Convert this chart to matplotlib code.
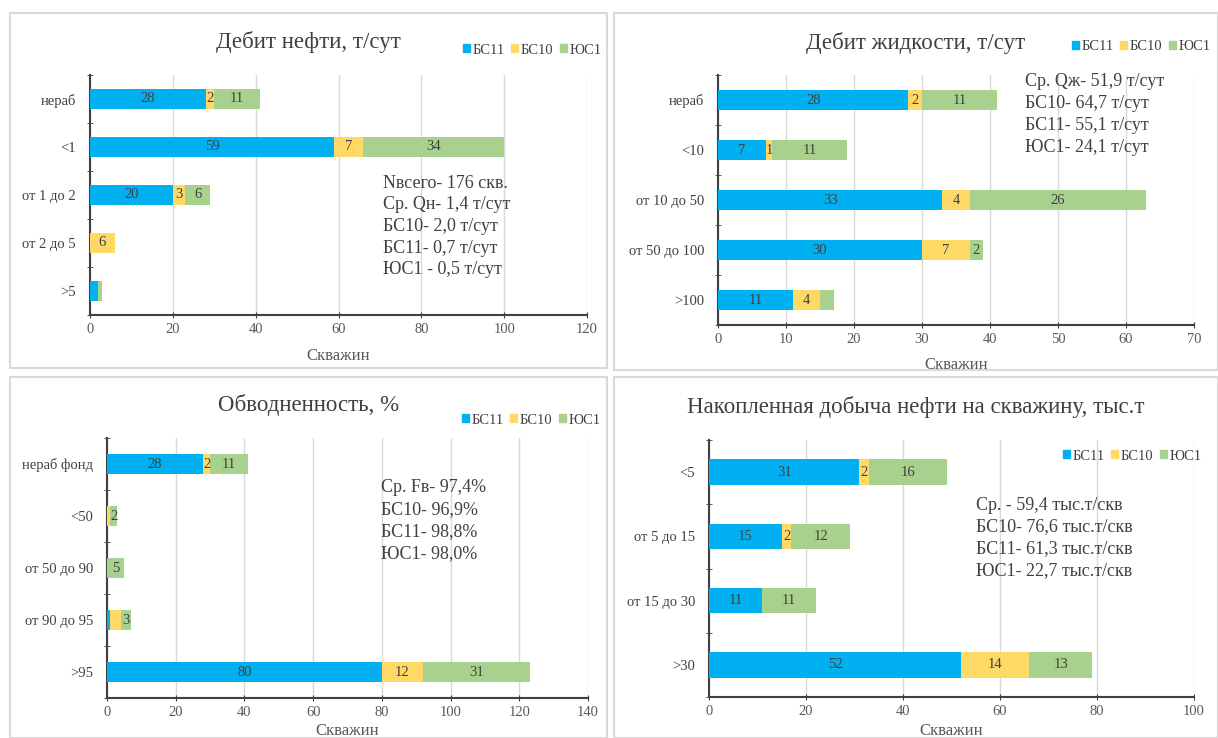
import matplotlib
matplotlib.use("Agg")
import matplotlib.pyplot as plt
from matplotlib.patches import Patch, Rectangle

W, H = 1218, 738
SERIES = ["БС11", "БС10", "ЮС1"]
COLORS = ["#00B0F0", "#FFD966", "#A9D18E"]
TXT = "#404040"

# --- panel 1: oil rate ---
oil_cats = ["нераб", "<1", "от 1 до 2", "от 2 до 5", ">5"]
oil_bs11 = [28, 59, 20, 0, 2]
oil_bs10 = [2, 7, 3, 6, 0]
oil_yus1 = [11, 34, 6, 0, 1]
oil_hidden = {(0, 4), (2, 4)}
oil_note = ["Nвсего- 176 скв.", "Ср. Qн- 1,4 т/сут", "БС10- 2,0 т/сут",
            "БС11- 0,7 т/сут", "ЮС1 - 0,5 т/сут"]

# --- panel 2: liquid rate ---
liq_cats = ["нераб", "<10", "от 10 до 50", "от 50 до 100", ">100"]
liq_bs11 = [28, 7, 33, 30, 11]
liq_bs10 = [2, 1, 4, 7, 4]
liq_yus1 = [11, 11, 26, 2, 2]
liq_hidden = {(2, 4)}
liq_note = ["Ср. Qж- 51,9 т/сут", "БС10- 64,7 т/сут", "БС11- 55,1 т/сут",
            "ЮС1- 24,1 т/сут"]

# --- panel 3: water cut ---
wc_cats = ["нераб фонд", "<50", "от 50 до 90", "от 90 до 95", ">95"]
wc_bs11 = [28, 0, 0, 1, 80]
wc_bs10 = [2, 1, 0, 3, 12]
wc_yus1 = [11, 2, 5, 3, 31]
wc_hidden = {(1, 1), (0, 3), (1, 3)}
wc_note = ["Ср. Fв- 97,4%", "БС10- 96,9%", "БС11- 98,8%", "ЮС1- 98,0%"]

# --- panel 4: cumulative oil per well ---
cum_cats = ["<5", "от 5 до 15", "от 15 до 30", ">30"]
cum_bs11 = [31, 15, 11, 52]
cum_bs10 = [2, 2, 0, 14]
cum_yus1 = [16, 12, 11, 13]
cum_hidden = set()
cum_note = ["Ср. - 59,4 тыс.т/скв", "БС10- 76,6 тыс.т/скв",
            "БС11- 61,3 тыс.т/скв", "ЮС1- 22,7 тыс.т/скв"]

plt.rcParams["font.family"] = ["Liberation Serif", "DejaVu Serif"]


def rect(x0, y0, x1, y1):
    return [x0 / W, 1 - y1 / H, (x1 - x0) / W, (y1 - y0) / H]


def panel(fig, box, ax_box, title, title_y, cats, data, hidden, xmax, xstep,
          note, note_xy, leg_xy, xlabel_y):
    # light frame around each sub-chart
    x0, y0, x1, y1 = box
    fig.patches.append(Rectangle((x0 / W, 1 - y1 / H), (x1 - x0) / W, (y1 - y0) / H,
                                 transform=fig.transFigure, fill=False,
                                 edgecolor="#D9D9D9", lw=1.5))
    ax = fig.add_axes(rect(*ax_box))
    n = len(cats)
    ys = list(range(n))
    left = [0] * n
    for si, vals in enumerate(data):
        ax.barh(ys, vals, left=left, height=0.4, color=COLORS[si], zorder=3)
        for ci, v in enumerate(vals):
            if v > 0 and (si, ci) not in hidden:
                ax.text(left[ci] + v / 2, ci, str(v), ha="center", va="center",
                        fontsize=10.5, color=TXT, zorder=4)
        left = [l + v for l, v in zip(left, vals)]
    ax.set_ylim(n - 0.5, -0.5)
    ax.set_xlim(0, xmax)
    ax.set_xticks(range(0, xmax + 1, xstep))
    ax.set_yticks(ys)
    ax.set_yticklabels(cats)
    ax.set_yticks([i + 0.5 for i in range(-1, n)], minor=True)
    ax.tick_params(axis="y", which="major", length=0, labelsize=10.5, labelcolor=TXT, pad=10)
    ax.tick_params(axis="y", which="minor", length=4, direction="inout", color="#404040")
    ax.tick_params(axis="x", length=4, direction="inout", labelsize=10.5,
                   labelcolor="#595959", color="#404040")
    ax.grid(axis="x", color="#D9D9D9", lw=1, zorder=0)
    for s in ("top", "right"):
        ax.spines[s].set_visible(False)
    for s in ("left", "bottom"):
        ax.spines[s].set_color("#404040")
        ax.spines[s].set_linewidth(1.5)
    cx = (x0 + x1) / 2
    fig.text(cx / W, 1 - title_y / H, title, ha="center", va="center",
             fontsize=16.5, color=TXT)
    fig.text((ax_box[0] + ax_box[2]) / 2 / W, 1 - xlabel_y / H, "Скважин",
             ha="center", va="center", fontsize=12, color="#595959")
    nx, ny = note_xy
    for i, line in enumerate(note):
        fig.text(nx / W, 1 - (ny + i * 21.7) / H, line, ha="left", va="center",
                 fontsize=13, color=TXT)
    handles = [Patch(color=c, label=s) for c, s in zip(COLORS, SERIES)]
    fig.legend(handles=handles, loc="center left",
               bbox_to_anchor=(leg_xy[0] / W, 1 - leg_xy[1] / H), ncol=3,
               frameon=False, fontsize=10.5, handlelength=0.45, handleheight=0.45,
               handletextpad=0.2, columnspacing=0.45, labelcolor=TXT,
               borderpad=0, borderaxespad=0)
    return ax


fig = plt.figure(figsize=(W / 100, H / 100), dpi=100)

panel(fig, (10, 13, 607, 368), (90, 75, 587, 315), "Дебит нефти, т/сут", 42,
      oil_cats, [oil_bs11, oil_bs10, oil_yus1], oil_hidden, 120, 20,
      oil_note, (383, 183), (463, 50), 356)
panel(fig, (614, 13, 1218, 370), (718, 75, 1194, 325), "Дебит жидкости, т/сут", 43,
      liq_cats, [liq_bs11, liq_bs10, liq_yus1], liq_hidden, 70, 10,
      liq_note, (1025, 82), (1072, 47), 365)
panel(fig, (10, 377, 607, 738), (107, 438, 588, 698), "Обводненность, %", 405,
      wc_cats, [wc_bs11, wc_bs10, wc_yus1], wc_hidden, 140, 20,
      wc_note, (381, 488), (462, 420), 731)
panel(fig, (614, 377, 1218, 738), (709, 440, 1194, 697),
      "Накопленная добыча нефти на скважину, тыс.т", 407,
      cum_cats, [cum_bs11, cum_bs10, cum_yus1], cum_hidden, 100, 20,
      cum_note, (976, 505), (1063, 456), 731)

fig.savefig("out.png", dpi=100, facecolor="white")
